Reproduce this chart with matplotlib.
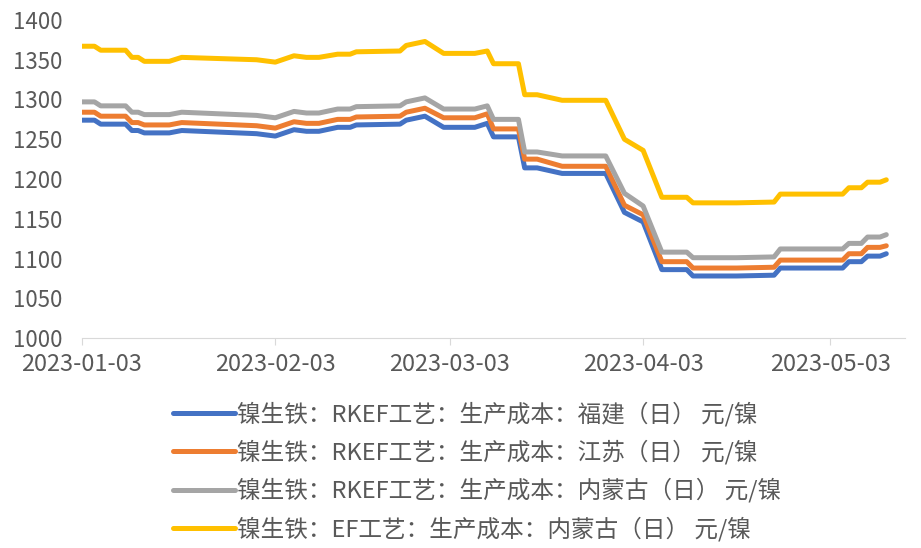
import numpy as np
import pandas as pd
import matplotlib
matplotlib.use("Agg")
from matplotlib import pyplot as plt
import matplotlib.dates as mdates

plt.rcParams['font.family'] = ['Noto Sans CJK SC', 'DejaVu Sans']

dates = pd.to_datetime([
    "2023-01-03", "2023-01-05", "2023-01-06", "2023-01-10", "2023-01-11",
    "2023-01-12", "2023-01-13", "2023-01-17", "2023-01-19", "2023-01-31",
    "2023-02-03", "2023-02-06", "2023-02-08", "2023-02-10", "2023-02-13",
    "2023-02-15", "2023-02-16", "2023-02-23", "2023-02-24", "2023-02-27",
    "2023-03-02", "2023-03-07", "2023-03-09", "2023-03-10", "2023-03-14",
    "2023-03-15", "2023-03-17", "2023-03-21", "2023-03-28", "2023-03-31",
    "2023-04-03", "2023-04-06", "2023-04-10", "2023-04-11", "2023-04-18",
    "2023-04-24", "2023-04-25", "2023-05-05", "2023-05-06", "2023-05-08",
    "2023-05-09", "2023-05-11", "2023-05-12",
])

fujian = [1274, 1274, 1269, 1269, 1261, 1261, 1258, 1258, 1261, 1257,
          1254, 1262, 1260, 1260, 1265, 1265, 1268, 1269, 1274, 1279,
          1265, 1265, 1270, 1253, 1253, 1214, 1214, 1207, 1207, 1158,
          1146, 1086, 1086, 1078, 1078, 1079, 1088, 1088, 1096, 1096,
          1103, 1103, 1106]
jiangsu = [1284, 1284, 1279, 1279, 1271, 1271, 1268, 1268, 1271, 1267,
           1264, 1272, 1270, 1270, 1275, 1275, 1278, 1279, 1284, 1289,
           1277, 1277, 1282, 1263, 1263, 1225, 1225, 1216, 1216, 1167,
           1155, 1096, 1096, 1088, 1088, 1089, 1098, 1098, 1106, 1106,
           1114, 1114, 1116]
neimeng = [1297, 1297, 1292, 1292, 1284, 1284, 1281, 1281, 1284, 1280,
           1277, 1285, 1283, 1283, 1288, 1288, 1291, 1292, 1297, 1302,
           1288, 1288, 1292, 1275, 1275, 1234, 1234, 1229, 1229, 1182,
           1166, 1108, 1108, 1101, 1101, 1102, 1112, 1112, 1119, 1119,
           1127, 1127, 1130]
ef_neimeng = [1367, 1367, 1362, 1362, 1353, 1353, 1348, 1348, 1353, 1350,
              1347, 1355, 1353, 1353, 1357, 1357, 1360, 1361, 1368, 1373,
              1358, 1358, 1361, 1345, 1345, 1306, 1306, 1299, 1299, 1250,
              1236, 1177, 1177, 1170, 1170, 1171, 1181, 1181, 1189, 1189,
              1196, 1196, 1199]

labels = [
    "镍生铁：RKEF工艺：生产成本：福建（日） 元/镍",
    "镍生铁：RKEF工艺：生产成本：江苏（日） 元/镍",
    "镍生铁：RKEF工艺：生产成本：内蒙古（日） 元/镍",
    "镍生铁：EF工艺：生产成本：内蒙古（日） 元/镍",
]
colors = ["#4472C4", "#ED7D31", "#A5A5A5", "#FFC000"]

fig = plt.figure(figsize=(9.21, 5.48), dpi=100)
ax = fig.add_axes([82 / 921, 1 - 338 / 548, (905 - 82) / 921, (338 - 20) / 548])

for vals, lab, c in zip([fujian, jiangsu, neimeng, ef_neimeng], labels, colors):
    ax.plot(dates, vals, color=c, lw=3.6, label=lab, solid_joinstyle='round',
            solid_capstyle='round')

ax.set_ylim(1000, 1400)
ax.set_yticks(np.arange(1000, 1401, 50))
ax.set_xlim(pd.Timestamp("2023-01-03"), pd.Timestamp("2023-01-03") + pd.Timedelta(days=132))
ax.xaxis.set_major_locator(mdates.MonthLocator(bymonthday=3))
ax.xaxis.set_major_formatter(mdates.DateFormatter("%Y-%m-%d"))

for s in ["top", "right", "left"]:
    ax.spines[s].set_visible(False)
ax.spines["bottom"].set_color("#D9D9D9")
ax.tick_params(axis="y", length=0, labelsize=16, labelcolor="#595959", pad=14)
ax.tick_params(axis="x", length=5, color="#D9D9D9", labelsize=17, labelcolor="#595959", pad=6)

fig.legend(loc="center", bbox_to_anchor=(0.518, 0.14), frameon=False,
           fontsize=17, handlelength=2.6, handletextpad=0.1, labelspacing=0.58,
           labelcolor="#595959")

fig.savefig("out.png", dpi=100)
